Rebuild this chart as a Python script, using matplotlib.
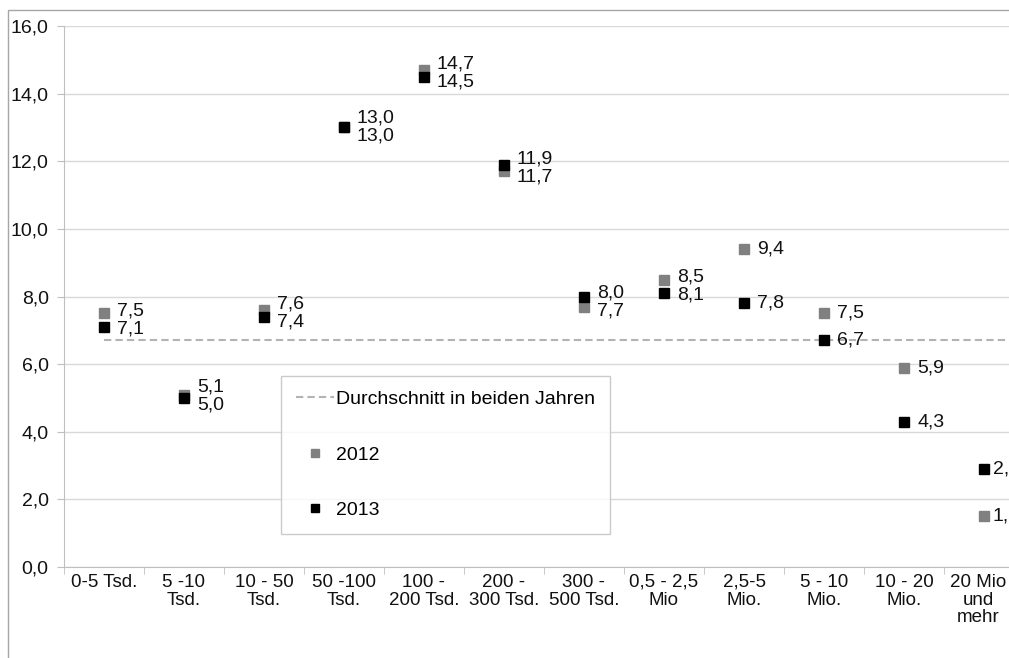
import numpy as np
import matplotlib
matplotlib.use("Agg")
import matplotlib.pyplot as plt
import matplotlib.transforms as mtransforms
from matplotlib.patches import Rectangle
from matplotlib.ticker import FuncFormatter

plt.rcParams['font.family'] = ['Liberation Sans', 'DejaVu Sans']

categories = ['0-5 Tsd.', '5 -10\nTsd.', '10 - 50\nTsd.', '50 -100\nTsd.', '100 -\n200 Tsd.',
              '200 -\n300 Tsd.', '300 -\n500 Tsd.', '0,5 - 2,5\nMio', '2,5-5\nMio.',
              '5 - 10\nMio.', '10 - 20\nMio.', '20 Mio\nund\nmehr']
vals_2012 = [7.5, 5.1, 7.6, 13.0, 14.7, 11.7, 7.7, 8.5, 9.4, 7.5, 5.9, 1.5]
vals_2013 = [7.1, 5.0, 7.4, 13.0, 14.5, 11.9, 8.0, 8.1, 7.8, 6.7, 4.3, 2.9]
avg_both = 6.7

W, H = 1009, 658
FS = 14
fig = plt.figure(figsize=(W / 100, H / 100), dpi=100)
ax = fig.add_axes([64 / W, 1 - 567 / H, 960 / W, 541 / H])

x = np.arange(len(categories))

# outer chart frame (only left/top visible, rest cut off)
fig.add_artist(Rectangle((8 / W, -0.1), 1.2, 1 - 10 / H + 0.1, transform=fig.transFigure,
                         fill=False, edgecolor='#a6a6a6', lw=1))

ax.plot([0, len(categories) - 0.65], [avg_both, avg_both], color='#b3b3b3', lw=1.5,
        ls=(0, (3.5, 2)), label='Durchschnitt in beiden Jahren', zorder=2)
ax.plot(x, vals_2012, ls='none', marker='s', ms=7.5, color='#808080', label='2012', zorder=3)
ax.plot(x, vals_2013, ls='none', marker='s', ms=7.5, color='#000000', label='2013', zorder=4)

# data labels, pushed apart when they would overlap
px_per_unit = 541 / 16
min_sep = 18
for i in x:
    a, b = vals_2012[i], vals_2013[i]
    d = abs(a - b) * px_per_unit
    shift = max(0, (min_sep - d) / 2)
    offs = (shift, -shift) if a >= b else (-shift, shift)
    dx = 9 if i == len(categories) - 1 else 13
    for v, o in zip((a, b), offs):
        ax.annotate(f'{v:.1f}'.replace('.', ','), (i, v), xytext=(dx, o),
                    textcoords='offset pixels', va='center', ha='left',
                    fontsize=FS, color='#111111', zorder=5)

ax.set_xlim(-0.5, len(categories) - 0.5)
ax.set_ylim(0, 16)
ax.set_yticks(np.arange(0, 17, 2))
ax.yaxis.set_major_formatter(FuncFormatter(lambda v, p: f'{v:.1f}'.replace('.', ',')))
ax.set_xticks(x)
ax.set_xticklabels(categories, fontsize=13.5, linespacing=1.05, color='#111111')
ax.set_xticks(np.arange(-0.5, len(categories), 1), minor=True)
ax.tick_params(axis='x', which='major', length=0, pad=5)
ax.tick_params(axis='x', which='minor', length=5, color='#bfbfbf')
ax.tick_params(axis='y', length=5, color='#bfbfbf', labelsize=FS, pad=6, labelcolor='#111111')

# last category label sits a bit left so it stays inside the picture
last = ax.get_xticklabels()[-1]
last.set_transform(last.get_transform() + mtransforms.ScaledTranslation(-6 / 100, 0, fig.dpi_scale_trans))

ax.grid(axis='y', color='#d9d9d9', lw=1)
ax.set_axisbelow(True)
for s in ['top', 'right']:
    ax.spines[s].set_visible(False)
ax.spines['left'].set_color('#bfbfbf')
ax.spines['bottom'].set_color('#bfbfbf')

leg = ax.legend(loc='upper left', bbox_to_anchor=(281 / W, 1 - 376 / H),
                bbox_transform=fig.transFigure, frameon=True, fancybox=False,
                fontsize=FS, labelspacing=1.95, handlelength=2.0, handletextpad=0.1,
                borderpad=0.75, markerscale=0.75, borderaxespad=0)
leg.get_frame().set_edgecolor('#bfbfbf')
leg.get_frame().set_linewidth(1)

fig.savefig('out.png', dpi=100)
